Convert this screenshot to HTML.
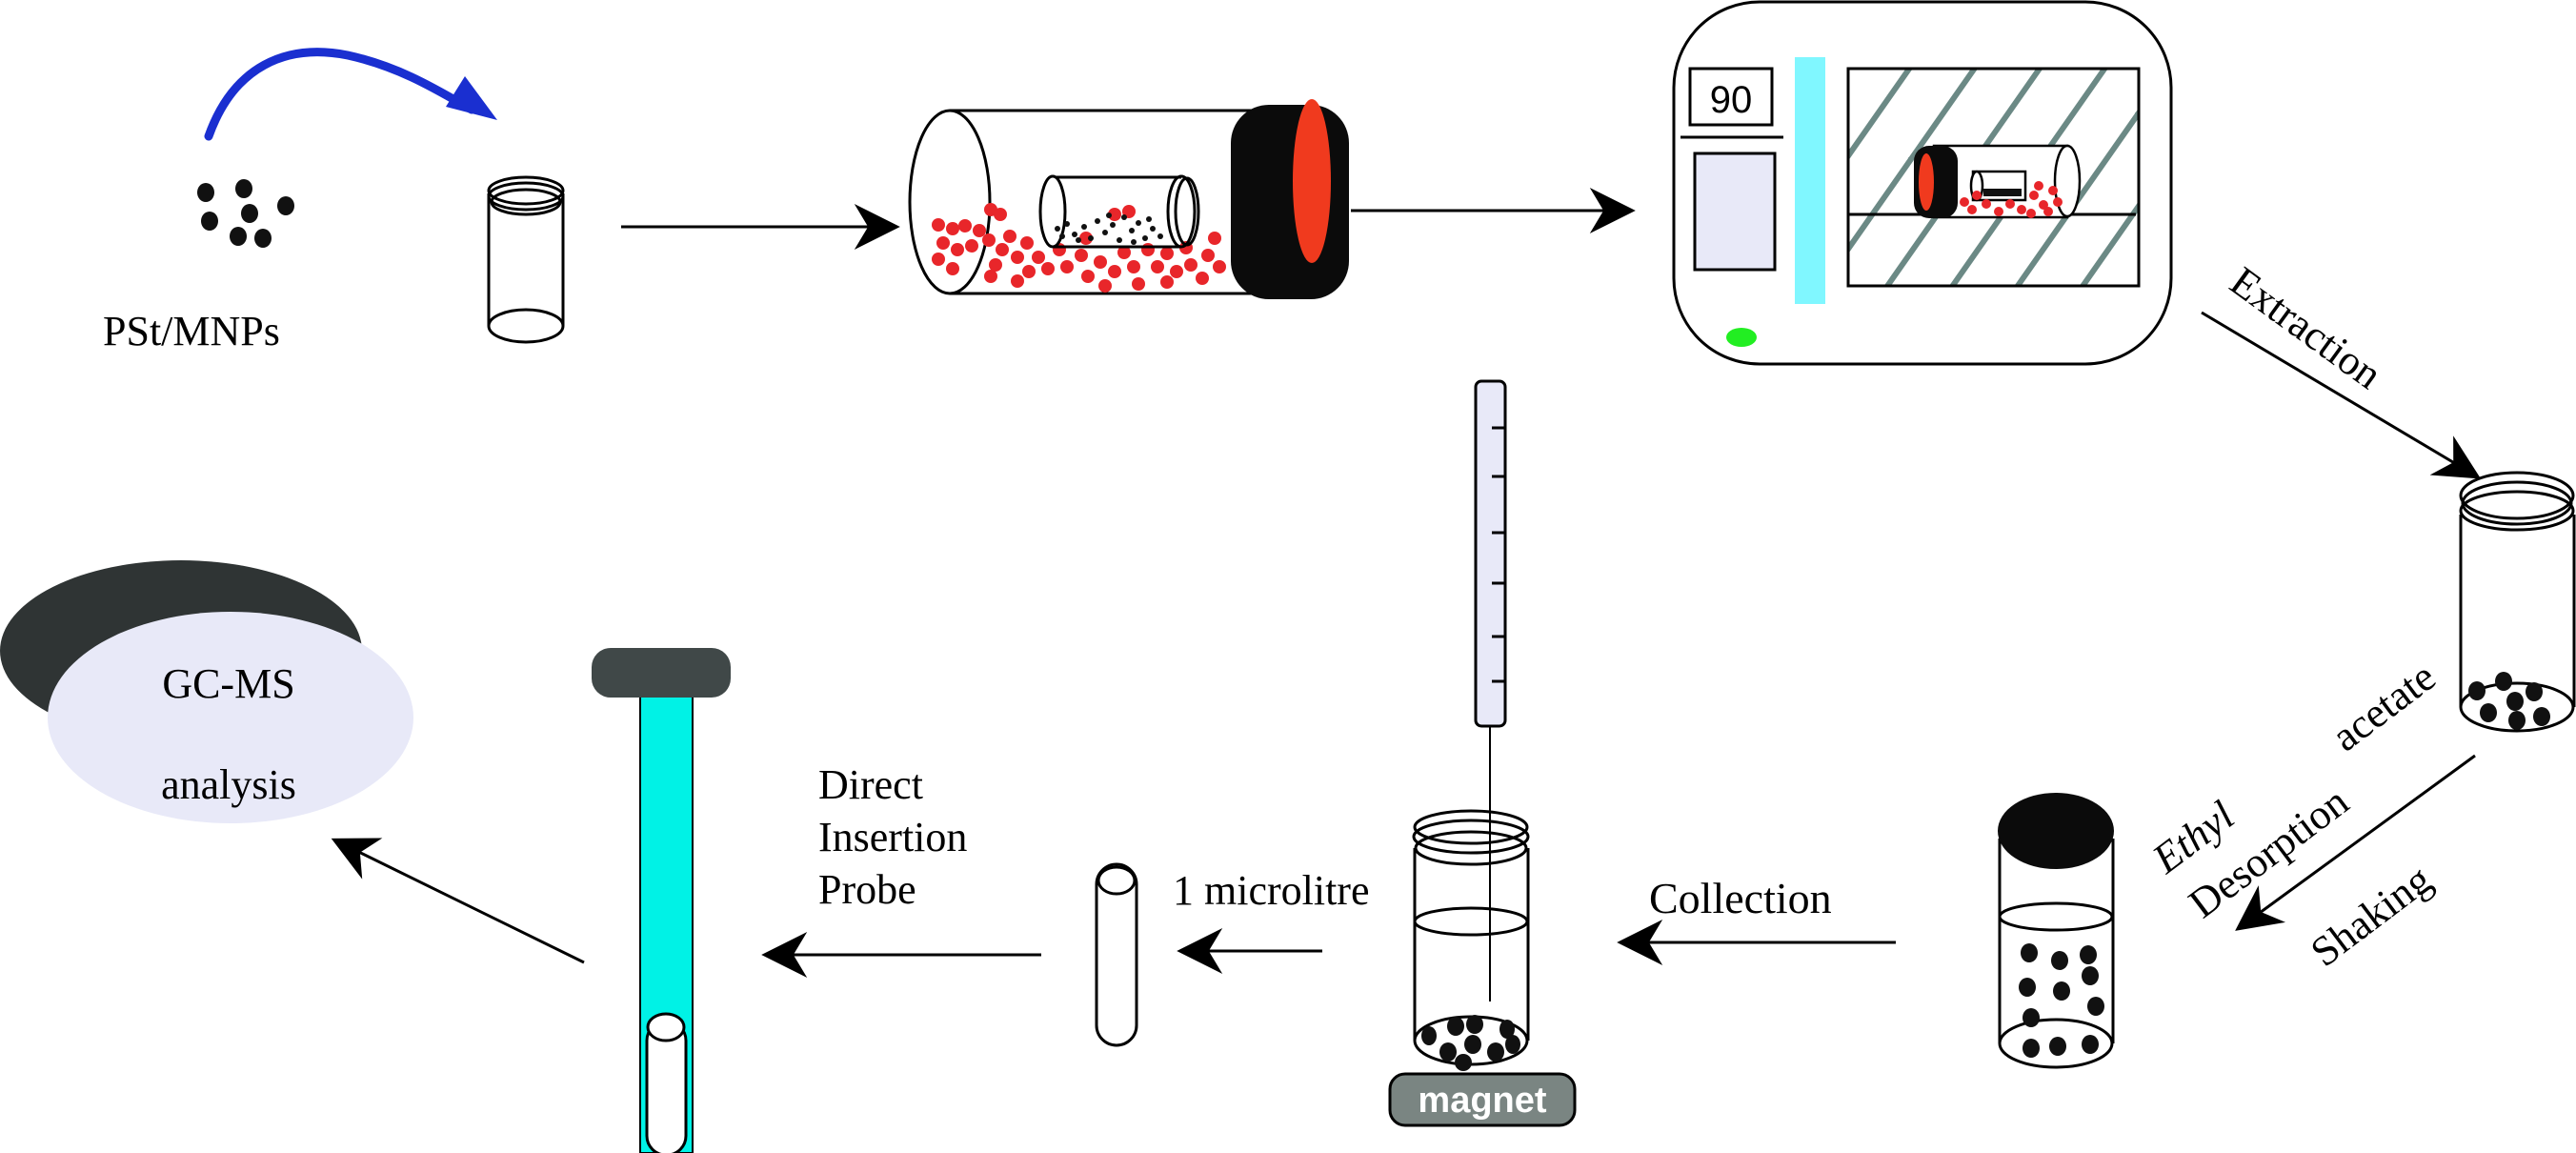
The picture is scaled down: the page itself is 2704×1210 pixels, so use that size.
<!DOCTYPE html>
<html><head><meta charset="utf-8"><style>
html,body{margin:0;padding:0;background:#fff;}
svg{display:block;}
text{font-family:"Liberation Serif",serif;fill:#000;}
</style></head><body>
<svg width="2704" height="1210" viewBox="0 0 2704 1210" xmlns="http://www.w3.org/2000/svg">
<defs>
<marker id="ah2" viewBox="0 0 20 20" refX="18" refY="10" markerWidth="56" markerHeight="48" markerUnits="userSpaceOnUse" orient="auto">
<path d="M0,0 L20,10 L0,20 L6,10 Z" fill="#000"/></marker>
<pattern id="hatch" patternUnits="userSpaceOnUse" width="56" height="56" patternTransform="rotate(35)">
<rect width="56" height="56" fill="#fff"/><rect x="0" y="0" width="6" height="56" fill="#6b8985"/></pattern>
</defs>

<!-- blue arc -->
<path d="M219,143 C245,70 300,45 365,58 C420,70 460,95 495,115" fill="none" stroke="#1a2fd0" stroke-width="9" stroke-linecap="round"/>
<path d="M488,80 L522,126 L468,112 Z" fill="#1a2fd0"/>

<!-- black dots -->
<g fill="#111">
<ellipse cx="216" cy="202" rx="9" ry="10"/><ellipse cx="256" cy="198" rx="9" ry="10"/>
<ellipse cx="300" cy="216" rx="9" ry="10"/><ellipse cx="262" cy="224" rx="9" ry="10"/>
<ellipse cx="220" cy="232" rx="9" ry="10"/><ellipse cx="250" cy="248" rx="9" ry="10"/>
<ellipse cx="276" cy="250" rx="9" ry="10"/>
</g>
<text x="108" y="362" font-size="44">PSt/MNPs</text>

<!-- small vial -->
<g fill="none" stroke="#000" stroke-width="3">
<line x1="513" y1="203" x2="513" y2="342"/><line x1="591" y1="203" x2="591" y2="342"/>
<ellipse cx="552" cy="342" rx="39" ry="17" fill="#fff"/>
<ellipse cx="552" cy="200" rx="39" ry="14"/><ellipse cx="552" cy="206" rx="39" ry="14"/><ellipse cx="552" cy="212" rx="36" ry="13"/>
</g>
<line x1="652" y1="238" x2="940" y2="238" stroke="#000" stroke-width="3" marker-end="url(#ah2)"/>

<!-- big cylinder -->
<g stroke="#000" stroke-width="3" fill="none">
<line x1="997" y1="116" x2="1320" y2="116"/><line x1="997" y1="308" x2="1320" y2="308"/>
<ellipse cx="997" cy="212" rx="42" ry="96" fill="#fff"/>
</g>
<g fill="#e8262a">
<circle cx="1040" cy="220" r="7"/><circle cx="1050" cy="225" r="7"/><circle cx="985" cy="236" r="7"/><circle cx="1000" cy="240" r="7"/>
<circle cx="1013" cy="237" r="7"/><circle cx="1028" cy="242" r="7"/><circle cx="990" cy="255" r="7"/><circle cx="1005" cy="262" r="7"/>
<circle cx="1020" cy="258" r="7"/><circle cx="1038" cy="252" r="7"/><circle cx="1052" cy="262" r="7"/><circle cx="985" cy="272" r="7"/>
<circle cx="1000" cy="282" r="7"/><circle cx="1045" cy="278" r="7"/><circle cx="1060" cy="248" r="7"/><circle cx="1068" cy="270" r="7"/>
<circle cx="1078" cy="255" r="7"/><circle cx="1090" cy="270" r="7"/><circle cx="1080" cy="285" r="7"/><circle cx="1068" cy="295" r="7"/>
<circle cx="1100" cy="282" r="7"/><circle cx="1112" cy="262" r="7"/><circle cx="1120" cy="280" r="7"/><circle cx="1135" cy="268" r="7"/>
<circle cx="1142" cy="290" r="7"/><circle cx="1155" cy="275" r="7"/><circle cx="1170" cy="285" r="7"/><circle cx="1180" cy="265" r="7"/>
<circle cx="1190" cy="280" r="7"/><circle cx="1195" cy="298" r="7"/><circle cx="1205" cy="262" r="7"/><circle cx="1215" cy="280" r="7"/>
<circle cx="1225" cy="266" r="7"/><circle cx="1235" cy="285" r="7"/><circle cx="1245" cy="260" r="7"/><circle cx="1250" cy="278" r="7"/>
<circle cx="1262" cy="292" r="7"/><circle cx="1268" cy="268" r="7"/><circle cx="1275" cy="250" r="7"/><circle cx="1280" cy="280" r="7"/>
<circle cx="1170" cy="225" r="7"/><circle cx="1185" cy="222" r="7"/><circle cx="1160" cy="300" r="7"/><circle cx="1140" cy="250" r="7"/>
<circle cx="1040" cy="290" r="7"/><circle cx="1225" cy="296" r="7"/>
</g>
<g stroke="#000" stroke-width="3" fill="none">
<line x1="1105" y1="186" x2="1240" y2="186"/><line x1="1105" y1="259" x2="1240" y2="259"/>
<ellipse cx="1105" cy="222" rx="13" ry="37" fill="#fff"/>
<ellipse cx="1240" cy="222" rx="14" ry="37"/><ellipse cx="1246" cy="222" rx="12" ry="35"/>
</g>
<g fill="#111">
<circle cx="1110" cy="240" r="3"/><circle cx="1115" cy="248" r="3"/><circle cx="1120" cy="235" r="3"/><circle cx="1128" cy="246" r="3"/>
<circle cx="1138" cy="238" r="3"/><circle cx="1145" cy="250" r="3"/><circle cx="1152" cy="232" r="3"/><circle cx="1160" cy="244" r="3"/>
<circle cx="1168" cy="236" r="3"/><circle cx="1175" cy="252" r="3"/><circle cx="1180" cy="228" r="3"/><circle cx="1188" cy="242" r="3"/>
<circle cx="1195" cy="234" r="3"/><circle cx="1202" cy="250" r="3"/><circle cx="1210" cy="240" r="3"/><circle cx="1218" cy="248" r="3"/>
<circle cx="1132" cy="252" r="3"/><circle cx="1164" cy="226" r="3"/><circle cx="1190" cy="254" r="3"/><circle cx="1206" cy="230" r="3"/>
</g>
<rect x="1292" y="110" width="124" height="204" rx="40" fill="#0b0b0b"/>
<ellipse cx="1377" cy="190" rx="20" ry="86" fill="#f03a1e"/>
<line x1="1418" y1="221" x2="1712" y2="221" stroke="#000" stroke-width="3" marker-end="url(#ah2)"/>

<!-- instrument -->
<rect x="1757" y="2" width="522" height="380" rx="90" fill="#fff" stroke="#000" stroke-width="3"/>
<rect x="1774" y="72" width="86" height="59" fill="#fff" stroke="#000" stroke-width="3"/>
<text x="1817" y="118" font-size="40" text-anchor="middle" style="font-family:'Liberation Sans',sans-serif">90</text>
<line x1="1764" y1="144" x2="1872" y2="144" stroke="#000" stroke-width="3"/>
<rect x="1779" y="161" width="84" height="122" fill="#e8e9f8" stroke="#000" stroke-width="3"/>
<rect x="1884" y="60" width="32" height="259" fill="#80f7ff"/>
<rect x="1940" y="72" width="305" height="228" fill="url(#hatch)" stroke="#000" stroke-width="3"/>
<line x1="1940" y1="225" x2="2242" y2="225" stroke="#000" stroke-width="3"/>
<g stroke="#000" stroke-width="2.5" fill="#fff">
<rect x="2030" y="153" width="140" height="75"/>
<ellipse cx="2170" cy="190" rx="13" ry="37"/>
<rect x="2071" y="180" width="55" height="30"/>
<ellipse cx="2075" cy="195" rx="6" ry="15"/>
</g>
<g fill="#111"><rect x="2082" y="198" width="40" height="8"/></g>
<g fill="#e8262a">
<circle cx="2062" cy="212" r="5"/><circle cx="2070" cy="220" r="5"/><circle cx="2085" cy="214" r="5"/><circle cx="2098" cy="222" r="5"/>
<circle cx="2110" cy="214" r="5"/><circle cx="2122" cy="220" r="5"/><circle cx="2135" cy="205" r="5"/><circle cx="2145" cy="215" r="5"/>
<circle cx="2155" cy="200" r="5"/><circle cx="2160" cy="212" r="5"/><circle cx="2150" cy="222" r="5"/><circle cx="2075" cy="205" r="5"/>
<circle cx="2140" cy="195" r="5"/><circle cx="2132" cy="224" r="5"/>
</g>
<rect x="2009" y="153" width="46" height="76" rx="16" fill="#0b0b0b"/>
<ellipse cx="2022" cy="191" rx="8" ry="30" fill="#f03a1e"/>
<ellipse cx="1828" cy="354" rx="16" ry="10" fill="#22ee22"/>

<!-- extraction -->
<text x="2338" y="302" font-size="44" transform="rotate(36 2338 302)">Extraction</text>
<line x1="2311" y1="328" x2="2600" y2="500" stroke="#000" stroke-width="3" marker-end="url(#ah2)"/>

<!-- right vial -->
<g fill="none" stroke="#000" stroke-width="3">
<line x1="2583" y1="540" x2="2583" y2="742"/><line x1="2702" y1="540" x2="2702" y2="742"/>
<ellipse cx="2642" cy="742" rx="59" ry="25" fill="#fff"/>
<ellipse cx="2642" cy="520" rx="59" ry="24"/><ellipse cx="2642" cy="528" rx="57" ry="22"/><ellipse cx="2642" cy="536" rx="59" ry="20"/>
</g>
<g fill="#111">
<ellipse cx="2600" cy="725" rx="9" ry="10"/><ellipse cx="2628" cy="715" rx="9" ry="10"/><ellipse cx="2660" cy="726" rx="9" ry="10"/>
<ellipse cx="2640" cy="736" rx="9" ry="10"/><ellipse cx="2612" cy="748" rx="9" ry="10"/><ellipse cx="2642" cy="756" rx="9" ry="10"/><ellipse cx="2668" cy="752" rx="9" ry="10"/>
</g>
<line x1="2598" y1="793" x2="2350" y2="974" stroke="#000" stroke-width="3" marker-end="url(#ah2)"/>
<text x="2462" y="790" font-size="44" transform="rotate(-37 2462 790)">acetate</text>
<text x="2274" y="918" font-size="44" font-style="italic" transform="rotate(-37 2274 918)">Ethyl</text>
<text x="2312" y="965" font-size="44" transform="rotate(-37 2312 965)">Desorption</text>
<text x="2440" y="1016" font-size="44" transform="rotate(-37 2440 1016)">Shaking</text>

<!-- capped vial -->
<g fill="none" stroke="#000" stroke-width="3">
<line x1="2099" y1="880" x2="2099" y2="1095"/><line x1="2218" y1="880" x2="2218" y2="1095"/>
<ellipse cx="2158" cy="1095" rx="59" ry="25" fill="#fff"/>
<ellipse cx="2158" cy="962" rx="59" ry="14"/>
</g>
<ellipse cx="2158" cy="872" rx="61" ry="40" fill="#0b0b0b"/>
<g fill="#111">
<ellipse cx="2130" cy="1000" rx="9" ry="10"/><ellipse cx="2162" cy="1008" rx="9" ry="10"/><ellipse cx="2192" cy="1002" rx="9" ry="10"/>
<ellipse cx="2194" cy="1024" rx="9" ry="10"/><ellipse cx="2128" cy="1036" rx="9" ry="10"/><ellipse cx="2164" cy="1040" rx="9" ry="10"/>
<ellipse cx="2200" cy="1056" rx="9" ry="10"/><ellipse cx="2132" cy="1068" rx="9" ry="10"/><ellipse cx="2132" cy="1100" rx="9" ry="10"/>
<ellipse cx="2160" cy="1098" rx="9" ry="10"/><ellipse cx="2194" cy="1096" rx="9" ry="10"/>
</g>
<line x1="1990" y1="989" x2="1702" y2="989" stroke="#000" stroke-width="3" marker-end="url(#ah2)"/>
<text x="1731" y="958" font-size="46">Collection</text>

<!-- pipette & magnet vial -->
<rect x="1549" y="400" width="31" height="362" rx="6" fill="#e8e9f8" stroke="#000" stroke-width="3"/>
<g stroke="#000" stroke-width="3">
<line x1="1566" y1="449" x2="1580" y2="449"/><line x1="1566" y1="500" x2="1580" y2="500"/><line x1="1566" y1="559" x2="1580" y2="559"/>
<line x1="1566" y1="612" x2="1580" y2="612"/><line x1="1566" y1="668" x2="1580" y2="668"/><line x1="1566" y1="715" x2="1580" y2="715"/>
</g>
<line x1="1564" y1="762" x2="1564" y2="1051" stroke="#000" stroke-width="2"/>
<g fill="none" stroke="#000" stroke-width="3">
<line x1="1485" y1="890" x2="1485" y2="1092"/><line x1="1604" y1="890" x2="1604" y2="1092"/>
<ellipse cx="1544" cy="1092" rx="59" ry="25" fill="#fff"/>
<ellipse cx="1544" cy="967" rx="59" ry="14"/>
<ellipse cx="1544" cy="868" rx="59" ry="17"/><ellipse cx="1544" cy="878" rx="60" ry="17"/><ellipse cx="1544" cy="890" rx="58" ry="17"/>
</g>
<g fill="#111">
<ellipse cx="1500" cy="1087" rx="8" ry="10"/><ellipse cx="1528" cy="1077" rx="9" ry="10"/><ellipse cx="1548" cy="1075" rx="9" ry="10"/>
<ellipse cx="1582" cy="1080" rx="8" ry="10"/><ellipse cx="1546" cy="1096" rx="9" ry="10"/><ellipse cx="1520" cy="1104" rx="9" ry="10"/>
<ellipse cx="1570" cy="1104" rx="9" ry="10"/><ellipse cx="1588" cy="1096" rx="8" ry="10"/><ellipse cx="1536" cy="1115" rx="9" ry="9"/>
</g>
<rect x="1459" y="1127" width="194" height="54" rx="16" fill="#7a8582" stroke="#000" stroke-width="3"/>
<text x="1556" y="1167" font-size="38" font-weight="bold" text-anchor="middle" style="font-family:'Liberation Sans',sans-serif;fill:#fff">magnet</text>

<line x1="1388" y1="998" x2="1240" y2="998" stroke="#000" stroke-width="3" marker-end="url(#ah2)"/>
<text x="1231" y="949" font-size="44">1 microlitre</text>

<!-- small tube -->
<rect x="1151" y="907" width="42" height="190" rx="21" fill="#fff" stroke="#000" stroke-width="3"/>
<ellipse cx="1172" cy="924" rx="19" ry="14" fill="#fff" stroke="#000" stroke-width="3"/>

<line x1="1093" y1="1002" x2="804" y2="1002" stroke="#000" stroke-width="3" marker-end="url(#ah2)"/>
<text x="859" y="838" font-size="44">Direct</text>
<text x="859" y="893" font-size="44">Insertion</text>
<text x="859" y="948" font-size="44">Probe</text>

<!-- probe -->
<rect x="672" y="728" width="55" height="482" fill="#00f2e6" stroke="#000" stroke-width="2"/>
<rect x="679" y="1072" width="41" height="140" rx="20" fill="#fff" stroke="#000" stroke-width="3"/>
<ellipse cx="699" cy="1078" rx="19" ry="14" fill="#fff" stroke="#000" stroke-width="3"/>
<rect x="621" y="680" width="146" height="52" rx="20" fill="#404848"/>

<line x1="613" y1="1010" x2="352" y2="882" stroke="#000" stroke-width="3" marker-end="url(#ah2)"/>

<!-- GC-MS -->
<ellipse cx="190" cy="683" rx="190" ry="95" fill="#2f3434"/>
<ellipse cx="242" cy="753" rx="192" ry="111" fill="#e8e9f8"/>
<text x="240" y="732" font-size="44" text-anchor="middle">GC-MS</text>
<text x="240" y="838" font-size="44" text-anchor="middle">analysis</text>
</svg>
</body></html>
